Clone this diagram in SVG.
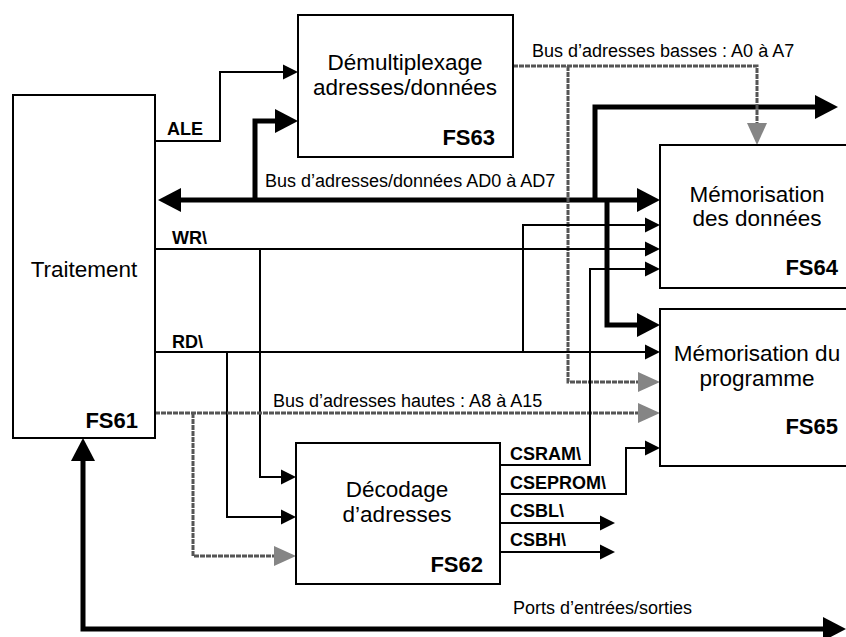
<svg xmlns="http://www.w3.org/2000/svg" width="846" height="637" viewBox="0 0 846 637">
<style>
.box{fill:#fff;stroke:#000;stroke-width:2}
.big{font-family:"Liberation Sans",Arial,sans-serif;font-size:22.5px;fill:#000}
.fs{font-family:"Liberation Sans",Arial,sans-serif;font-size:22px;font-weight:bold;fill:#000;text-anchor:end}
.lbl{font-family:"Liberation Sans",Arial,sans-serif;font-size:18px;fill:#000}
.sig{font-family:"Liberation Sans",Arial,sans-serif;font-size:18px;font-weight:bold;fill:#000}
.thin{fill:none;stroke:#000;stroke-width:2}
.thick{fill:none;stroke:#000;stroke-width:5}
.grey{fill:none;stroke:#555;stroke-width:3;stroke-dasharray:5 1}
</style>
<defs>
<marker id="s" markerUnits="userSpaceOnUse" viewBox="0 0 15 16" markerWidth="15" markerHeight="16" refX="0" refY="8" orient="auto"><path d="M0,0.5 L15,8 L0,15.5 z" fill="#000"/></marker>
<marker id="b" markerUnits="userSpaceOnUse" viewBox="0 0 23 26" markerWidth="23" markerHeight="26" refX="0" refY="13" orient="auto-start-reverse"><path d="M0,1 L23,13 L0,25 z" fill="#000"/></marker>
<marker id="g" markerUnits="userSpaceOnUse" viewBox="0 0 22 22" markerWidth="22" markerHeight="22" refX="0" refY="11" orient="auto"><path d="M0,1 L22,11 L0,21 z" fill="#858585"/></marker>
</defs>

<g id="connectors">
<path class="thin" d="M155,141 H220 V72 H283" marker-end="url(#s)"/>
<path class="thick" d="M181,200 H637" marker-start="url(#b)" marker-end="url(#b)"/>
<path class="thick" d="M255,200 V121 H275" marker-end="url(#b)"/>
<path class="thick" d="M595,200 V107 H815" marker-end="url(#b)"/>
<path class="thick" d="M607,200 V325 H637" marker-end="url(#b)"/>
<path class="grey" d="M513,66 H757 V123" marker-end="url(#g)"/>
<path class="grey" d="M568,66 V382 H638" marker-end="url(#g)"/>
<path class="thin" d="M155,249 H645" marker-end="url(#s)"/>
<path class="thin" d="M260,249 V477 H281" marker-end="url(#s)"/>
<path class="thin" d="M155,352 H645" marker-end="url(#s)"/>
<path class="thin" d="M227,352 V517 H281" marker-end="url(#s)"/>
<path class="thin" d="M523,352 V225 H645" marker-end="url(#s)"/>
<path class="grey" d="M155,413 H638" marker-end="url(#g)"/>
<path class="grey" d="M193,413 V556 H274" marker-end="url(#g)"/>
<path class="thin" d="M500,465 H590 V269 H645" marker-end="url(#s)"/>
<path class="thin" d="M500,494 H626 V448 H645" marker-end="url(#s)"/>
<path class="thin" d="M500,523 H600" marker-end="url(#s)"/>
<path class="thin" d="M500,552 H600" marker-end="url(#s)"/>
<path class="thick" d="M823,629 H83 V461" marker-start="url(#b)" marker-end="url(#b)"/>
<text class="lbl" x="532" y="57">Bus d’adresses basses : A0 à A7</text>
<text class="lbl" x="265" y="187">Bus d’adresses/données AD0 à AD7</text>
<text class="lbl" x="273" y="407">Bus d’adresses hautes : A8 à A15</text>
<text class="lbl" x="513" y="614">Ports d’entrées/sorties</text>
<text class="sig" x="167" y="135">ALE</text>
<text class="sig" x="172" y="244">WR\</text>
<text class="sig" x="172" y="348">RD\</text>
<text class="sig" x="510" y="460">CSRAM\</text>
<text class="sig" x="510" y="489">CSEPROM\</text>
<text class="sig" x="510" y="517">CSBL\</text>
<text class="sig" x="510" y="546">CSBH\</text>
</g>

<g id="FS61">
<rect class="box" x="13" y="95" width="142" height="343"/>
<text class="big" x="84" y="277" text-anchor="middle">Traitement</text>
<text class="fs" x="138" y="428">FS61</text>
</g>

<g id="FS63">
<rect class="box" x="298" y="15" width="215" height="142"/>
<text class="big" x="405" y="70" text-anchor="middle">Démultiplexage</text>
<text class="big" x="405" y="95" text-anchor="middle">adresses/données</text>
<text class="fs" x="495" y="145">FS63</text>
</g>

<g id="FS64">
<rect class="box" x="660" y="145" width="200" height="143"/>
<text class="big" x="757" y="202" text-anchor="middle">Mémorisation</text>
<text class="big" x="757" y="226" text-anchor="middle">des données</text>
<text class="fs" x="838" y="275">FS64</text>
</g>

<g id="FS65">
<rect class="box" x="660" y="309" width="200" height="157"/>
<text class="big" x="757" y="361" text-anchor="middle">Mémorisation du</text>
<text class="big" x="757" y="386" text-anchor="middle">programme</text>
<text class="fs" x="838" y="434">FS65</text>
</g>

<g id="FS62">
<rect class="box" x="296" y="443" width="204" height="141"/>
<text class="big" x="397" y="497" text-anchor="middle">Décodage</text>
<text class="big" x="397" y="522" text-anchor="middle">d’adresses</text>
<text class="fs" x="483" y="572">FS62</text>
</g>
</svg>
